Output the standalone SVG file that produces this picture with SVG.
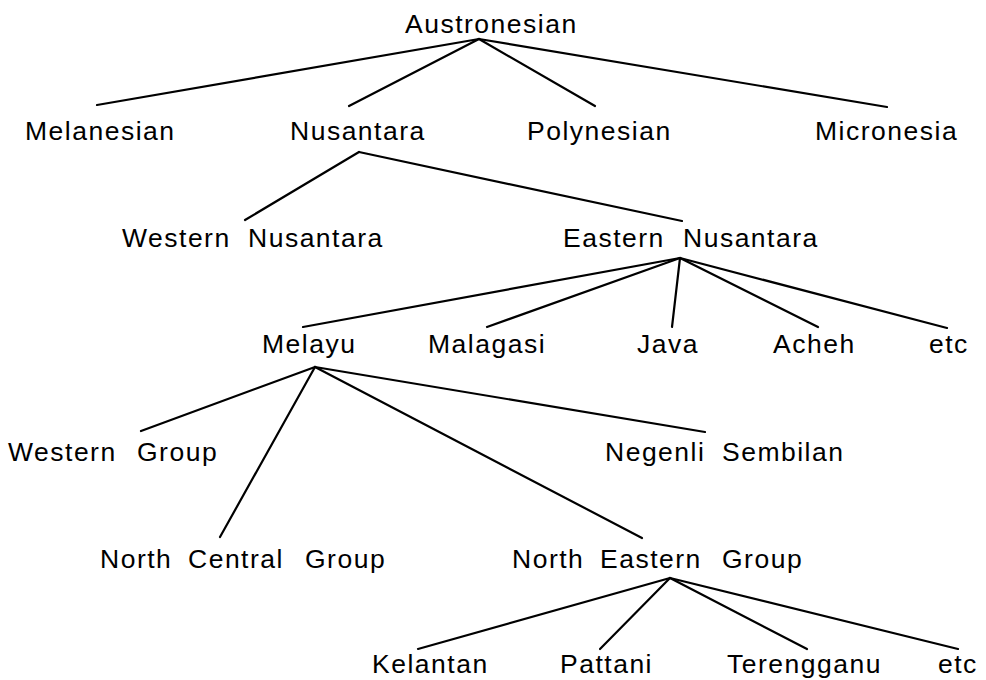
<svg xmlns="http://www.w3.org/2000/svg" width="986" height="680" viewBox="0 0 986 680">
<style>
text{font-family:"Liberation Sans",Arial,Helvetica,sans-serif;font-size:26.5px;letter-spacing:1.5px;fill:#000}
.c line{stroke:#000;stroke-width:2.2;stroke-linecap:round}
</style>
<rect width="986" height="680" fill="#fff"/>
<g id="connectors" class="c">
<line x1="479" y1="39" x2="97" y2="105"/>
<line x1="479" y1="39" x2="349" y2="106"/>
<line x1="479" y1="39" x2="595" y2="106"/>
<line x1="479" y1="39" x2="887" y2="107"/>
<line x1="359" y1="152" x2="245" y2="220"/>
<line x1="359" y1="152" x2="682" y2="221"/>
<line x1="680" y1="258" x2="303" y2="327"/>
<line x1="680" y1="258" x2="487" y2="327"/>
<line x1="680" y1="258" x2="672" y2="327"/>
<line x1="680" y1="258" x2="818" y2="327"/>
<line x1="680" y1="258" x2="947" y2="328"/>
<line x1="315" y1="367" x2="141" y2="431"/>
<line x1="315" y1="367" x2="220" y2="537"/>
<line x1="315" y1="367" x2="642" y2="538"/>
<line x1="315" y1="367" x2="705" y2="432"/>
<line x1="670" y1="578" x2="418" y2="649"/>
<line x1="670" y1="578" x2="600" y2="649"/>
<line x1="670" y1="578" x2="807" y2="649"/>
<line x1="670" y1="578" x2="958" y2="649"/>
</g>
<g id="austronesian"><text x="405" y="33">Austronesian</text></g>
<g id="melanesian"><text x="25" y="140">Melanesian</text></g>
<g id="nusantara"><text x="290" y="140">Nusantara</text></g>
<g id="polynesian"><text x="527" y="140">Polynesian</text></g>
<g id="micronesia"><text x="815" y="140">Micronesia</text></g>
<g id="western-nusantara"><text y="247"><tspan x="122">Western </tspan><tspan x="248">Nusantara</tspan></text></g>
<g id="eastern-nusantara"><text y="247"><tspan x="563">Eastern </tspan><tspan x="683">Nusantara</tspan></text></g>
<g id="melayu"><text x="262" y="353">Melayu</text></g>
<g id="malagasi"><text x="428" y="353">Malagasi</text></g>
<g id="java"><text x="637" y="353">Java</text></g>
<g id="acheh"><text x="773" y="353">Acheh</text></g>
<g id="etc1"><text x="929" y="353">etc</text></g>
<g id="western-group"><text y="461"><tspan x="8">Western </tspan><tspan x="137">Group</tspan></text></g>
<g id="negenli-sembilan"><text y="461"><tspan x="605">Negenli </tspan><tspan x="722">Sembilan</tspan></text></g>
<g id="north-central-group"><text y="568"><tspan x="100">North </tspan><tspan x="188">Central </tspan><tspan x="305">Group</tspan></text></g>
<g id="north-eastern-group"><text y="568"><tspan x="512">North </tspan><tspan x="600">Eastern </tspan><tspan x="722">Group</tspan></text></g>
<g id="kelantan"><text x="372" y="673">Kelantan</text></g>
<g id="pattani"><text x="560" y="673">Pattani</text></g>
<g id="terengganu"><text x="727" y="673">Terengganu</text></g>
<g id="etc2"><text x="938" y="673">etc</text></g>
</svg>
